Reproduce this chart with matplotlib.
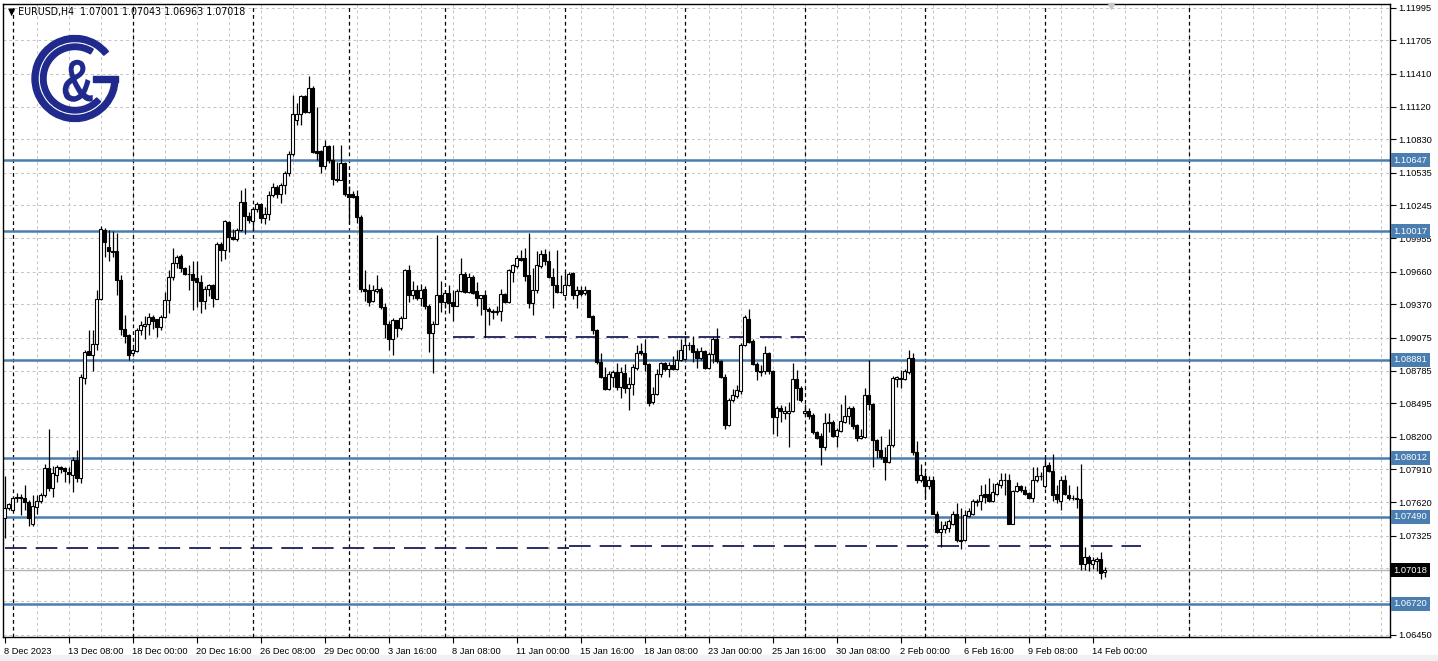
import numpy as np
import matplotlib.pyplot as plt
from matplotlib.patches import Wedge, Rectangle, PathPatch
from matplotlib.textpath import TextPath
from matplotlib.font_manager import FontProperties
from matplotlib.transforms import Affine2D

# EURUSD H4 candles, 8 Dec 2023 16:00 .. 14 Feb 2024 08:00
opens = [
    1.0748, 1.0757, 1.0755, 1.0766, 1.0767, 1.0766, 1.0762, 1.0743, 1.0758, 1.0763,
    1.0768, 1.0792, 1.0775, 1.0786, 1.0793, 1.0792, 1.0789, 1.0786, 1.0799, 1.0783,
    1.0872, 1.0896, 1.0892, 1.0902, 1.0942, 1.1003, 1.0988, 1.0984, 1.0984, 1.0959,
    1.0915, 1.0910, 1.0894, 1.0896, 1.0914, 1.0918, 1.0920, 1.0926, 1.0924, 1.0917,
    1.0926, 1.0941, 1.0961, 1.0974, 1.0980, 1.0969, 1.0964, 1.0964, 1.0960, 1.0957,
    1.0940, 1.0951, 1.0954, 1.0942, 1.0990, 1.0985, 1.1010, 1.0997, 1.0995, 1.1003,
    1.1028, 1.1015, 1.1011, 1.1021, 1.1026, 1.1013, 1.1017, 1.1034, 1.1041, 1.1035,
    1.1043, 1.1053, 1.1070, 1.1100, 1.1105, 1.1121, 1.1107, 1.1128, 1.1073, 1.1073,
    1.1059, 1.1077, 1.1065, 1.1048, 1.1047, 1.1062, 1.1035, 1.1035, 1.1033, 1.1014,
    1.0951, 1.0950, 1.0940, 1.0949, 1.0951, 1.0935, 1.0920, 1.0906, 1.0923, 1.0916,
    1.0925, 1.0967, 1.0945, 1.0950, 1.0943, 1.0951, 1.0936, 1.0912, 1.0920, 1.0945,
    1.0939, 1.0947, 1.0939, 1.0936, 1.0949, 1.0964, 1.0948, 1.0961, 1.0949, 1.0943,
    1.0945, 1.0933, 1.0931, 1.0930, 1.0931, 1.0946, 1.0939, 1.0966, 1.0971, 1.0978,
    1.0978, 1.0963, 1.0938, 1.0950, 1.0971, 1.0982, 1.0975, 1.0961, 1.0954, 1.0948,
    1.0945, 1.0954, 1.0965, 1.0945, 1.0950, 1.0947, 1.0950, 1.0927, 1.0914, 1.0886,
    1.0873, 1.0862, 1.0873, 1.0877, 1.0864, 1.0876, 1.0863, 1.0867, 1.0881, 1.0896,
    1.0894, 1.0884, 1.0851, 1.0858, 1.0875, 1.0885, 1.0880, 1.0883, 1.0880, 1.0888,
    1.0889, 1.0901, 1.0901, 1.0896, 1.0890, 1.0896, 1.0881, 1.0893, 1.0906, 1.0887,
    1.0873, 1.0830, 1.0852, 1.0856, 1.0860, 1.0901, 1.0924, 1.0905, 1.0884, 1.0878,
    1.0878, 1.0894, 1.0878, 1.0837, 1.0845, 1.0841, 1.0841, 1.0843, 1.0871, 1.0863,
    1.0841, 1.0843, 1.0839, 1.0824, 1.0821, 1.0811, 1.0832, 1.0833, 1.0821, 1.0825,
    1.0833, 1.0838, 1.0845, 1.0830, 1.0819, 1.0820, 1.0857, 1.0849, 1.0817, 1.0808,
    1.0802, 1.0798, 1.0813, 1.0871, 1.0871, 1.0871, 1.0877, 1.0890, 1.0806, 1.0782,
    1.0785, 1.0776, 1.0782, 1.0752, 1.0736, 1.0738, 1.0739, 1.0743, 1.0752, 1.0729,
    1.0729, 1.0750, 1.0752, 1.0763, 1.0763, 1.0769, 1.0769, 1.0763, 1.0769, 1.0777,
    1.0782, 1.0782, 1.0743, 1.0772, 1.0776, 1.0773, 1.0770, 1.0766, 1.0782, 1.0785,
    1.0776, 1.0795, 1.0790, 1.0769, 1.0763, 1.0782, 1.0768, 1.0766, 1.0766, 1.0765,
    1.0707, 1.0714, 1.0707, 1.0710, 1.0712, 1.07001,
]
highs = [
    1.0785, 1.0761, 1.0767, 1.0770, 1.0769, 1.0777, 1.0764, 1.0768, 1.0768, 1.0770,
    1.0796, 1.0827, 1.0794, 1.0795, 1.0794, 1.0793, 1.0793, 1.0802, 1.0808, 1.0875,
    1.0897, 1.0914, 1.0914, 1.0950, 1.1006, 1.1005, 1.1003, 1.1002, 1.1000, 1.0963,
    1.0928, 1.0911, 1.0898, 1.0916, 1.0922, 1.0927, 1.0929, 1.0928, 1.0924, 1.0928,
    1.0948, 1.0967, 1.0987, 1.0981, 1.0982, 1.0970, 1.0972, 1.0975, 1.0975, 1.0963,
    1.0953, 1.0955, 1.0955, 1.0992, 1.0992, 1.1012, 1.1011, 1.1004, 1.1005, 1.1038,
    1.1040, 1.1019, 1.1023, 1.1028, 1.1027, 1.1023, 1.1037, 1.1044, 1.1043, 1.1044,
    1.1055, 1.1073, 1.1122, 1.1115, 1.1122, 1.1122, 1.1139, 1.1130, 1.1112, 1.1074,
    1.1082, 1.1078, 1.1078, 1.1063, 1.1078, 1.1063, 1.1042, 1.1037, 1.1038, 1.1016,
    1.0967, 1.0955, 1.0954, 1.0963, 1.0952, 1.0938, 1.0922, 1.0925, 1.0923, 1.0927,
    1.0968, 1.0972, 1.0958, 1.0954, 1.0955, 1.0953, 1.0937, 1.0922, 1.0998, 1.0958,
    1.0950, 1.0954, 1.0950, 1.0951, 1.0978, 1.0966, 1.0965, 1.0963, 1.0957, 1.0945,
    1.0950, 1.0935, 1.0933, 1.0936, 1.0951, 1.0947, 1.0968, 1.0973, 1.0981, 1.0985,
    1.0987, 1.1000, 1.0969, 1.0984, 1.0985, 1.0986, 1.0984, 1.0969, 1.0985, 1.0963,
    1.0966, 1.0966, 1.0966, 1.0953, 1.0953, 1.0953, 1.0950, 1.0928, 1.0915, 1.0894,
    1.0882, 1.0878, 1.0879, 1.0885, 1.0882, 1.0884, 1.0873, 1.0884, 1.0901, 1.0903,
    1.0906, 1.0885, 1.0864, 1.0880, 1.0886, 1.0886, 1.0886, 1.0891, 1.0897, 1.0906,
    1.0908, 1.0904, 1.0909, 1.0898, 1.0899, 1.0897, 1.0895, 1.0908, 1.0916, 1.0888,
    1.0875, 1.0854, 1.0862, 1.0866, 1.0903, 1.0928, 1.0933, 1.0906, 1.0886, 1.0883,
    1.0900, 1.0895, 1.0879, 1.0847, 1.0848, 1.0847, 1.0851, 1.0885, 1.0879, 1.0865,
    1.0849, 1.0845, 1.0841, 1.0825, 1.0823, 1.0841, 1.0841, 1.0835, 1.0828, 1.0849,
    1.0857, 1.0847, 1.0847, 1.0831, 1.0827, 1.0863, 1.0888, 1.0850, 1.0818, 1.0821,
    1.0811, 1.0827, 1.0874, 1.0874, 1.0879, 1.0880, 1.0897, 1.0894, 1.0816, 1.0796,
    1.0789, 1.0785, 1.0785, 1.0754, 1.0745, 1.0745, 1.0747, 1.0754, 1.0761, 1.0757,
    1.0755, 1.0757, 1.0765, 1.0765, 1.0777, 1.0778, 1.0783, 1.0779, 1.0780, 1.0788,
    1.0788, 1.0787, 1.0773, 1.0780, 1.0777, 1.0776, 1.0771, 1.0793, 1.0793, 1.0789,
    1.0802, 1.0798, 1.0805, 1.0777, 1.0785, 1.0786, 1.0777, 1.0768, 1.0776, 1.0796,
    1.0722, 1.0715, 1.0714, 1.0714, 1.0718, 1.07043,
]
lows = [
    1.0730, 1.0755, 1.0754, 1.0762, 1.0751, 1.0755, 1.0741, 1.0741, 1.0752, 1.0761,
    1.0767, 1.0772, 1.0767, 1.0780, 1.0788, 1.0780, 1.0779, 1.0771, 1.0780, 1.0779,
    1.0867, 1.0892, 1.0878, 1.0897, 1.0941, 1.0979, 1.0975, 1.0979, 1.0945, 1.0910,
    1.0903, 1.0888, 1.0891, 1.0895, 1.0910, 1.0906, 1.0910, 1.0915, 1.0908, 1.0914,
    1.0925, 1.0929, 1.0959, 1.0969, 1.0966, 1.0963, 1.0950, 1.0932, 1.0935, 1.0929,
    1.0933, 1.0944, 1.0935, 1.0942, 1.0975, 1.0977, 1.0983, 1.0994, 1.0993, 1.1002,
    1.0999, 1.1009, 1.1002, 1.1019, 1.1009, 1.1008, 1.1012, 1.1032, 1.1031, 1.1027,
    1.1035, 1.1051, 1.1068, 1.1096, 1.1096, 1.1106, 1.1106, 1.1071, 1.1065, 1.1053,
    1.1057, 1.1062, 1.1043, 1.1045, 1.1047, 1.1033, 1.1009, 1.1031, 1.1009, 1.0948,
    1.0940, 1.0936, 1.0939, 1.0947, 1.0933, 1.0907, 1.0897, 1.0892, 1.0908, 1.0914,
    1.0925, 1.0939, 1.0942, 1.0941, 1.0936, 1.0933, 1.0895, 1.0876, 1.0920, 1.0930,
    1.0934, 1.0929, 1.0922, 1.0936, 1.0948, 1.0947, 1.0947, 1.0946, 1.0936, 1.0928,
    1.0908, 1.0919, 1.0924, 1.0928, 1.0922, 1.0938, 1.0938, 1.0957, 1.0969, 1.0975,
    1.0958, 1.0934, 1.0928, 1.0947, 1.0969, 1.0972, 1.0960, 1.0934, 1.0947, 1.0947,
    1.0944, 1.0953, 1.0942, 1.0934, 1.0944, 1.0945, 1.0926, 1.0911, 1.0884, 1.0872,
    1.0861, 1.0861, 1.0864, 1.0861, 1.0854, 1.0859, 1.0844, 1.0857, 1.0879, 1.0892,
    1.0878, 1.0847, 1.0849, 1.0857, 1.0873, 1.0878, 1.0873, 1.0879, 1.0879, 1.0887,
    1.0888, 1.0897, 1.0886, 1.0881, 1.0888, 1.0880, 1.0880, 1.0885, 1.0885, 1.0872,
    1.0827, 1.0829, 1.0851, 1.0854, 1.0858, 1.0900, 1.0903, 1.0883, 1.0870, 1.0874,
    1.0875, 1.0875, 1.0822, 1.0821, 1.0833, 1.0836, 1.0811, 1.0842, 1.0852, 1.0851,
    1.0839, 1.0836, 1.0822, 1.0818, 1.0795, 1.0808, 1.0824, 1.0820, 1.0811, 1.0824,
    1.0832, 1.0831, 1.0827, 1.0816, 1.0818, 1.0819, 1.0844, 1.0793, 1.0801, 1.0800,
    1.0782, 1.0797, 1.0811, 1.0864, 1.0863, 1.0870, 1.0875, 1.0804, 1.0779, 1.0780,
    1.0766, 1.0774, 1.0752, 1.0735, 1.0722, 1.0735, 1.0736, 1.0742, 1.0727, 1.0721,
    1.0728, 1.0749, 1.0751, 1.0759, 1.0755, 1.0761, 1.0762, 1.0762, 1.0768, 1.0775,
    1.0768, 1.0743, 1.0743, 1.0771, 1.0771, 1.0768, 1.0765, 1.0762, 1.0780, 1.0782,
    1.0775, 1.0789, 1.0763, 1.0761, 1.0755, 1.0768, 1.0764, 1.0764, 1.0757, 1.0702,
    1.0702, 1.0701, 1.0703, 1.0701, 1.0694, 1.06963,
]
closes = [
    1.0757, 1.0760, 1.0766, 1.0767, 1.0766, 1.0762, 1.0748, 1.0759, 1.0763, 1.0768,
    1.0792, 1.0775, 1.0788, 1.0793, 1.0791, 1.0790, 1.0787, 1.0799, 1.0783, 1.0873,
    1.0895, 1.0892, 1.0902, 1.0942, 1.1004, 1.0992, 1.0984, 1.0983, 1.0959, 1.0915,
    1.0909, 1.0892, 1.0897, 1.0914, 1.0919, 1.0920, 1.0926, 1.0922, 1.0917, 1.0926,
    1.0941, 1.0961, 1.0974, 1.0979, 1.0969, 1.0964, 1.0964, 1.0959, 1.0957, 1.0940,
    1.0951, 1.0954, 1.0943, 1.0990, 1.0985, 1.1011, 1.0997, 1.0995, 1.1003, 1.1028,
    1.1015, 1.1012, 1.1021, 1.1026, 1.1013, 1.1017, 1.1034, 1.1041, 1.1035, 1.1043,
    1.1053, 1.1070, 1.1105, 1.1105, 1.1121, 1.1107, 1.1128, 1.1072, 1.1071, 1.1059,
    1.1077, 1.1065, 1.1048, 1.1047, 1.1062, 1.1035, 1.1032, 1.1032, 1.1014, 1.0951,
    1.0949, 1.0939, 1.0950, 1.0951, 1.0935, 1.0920, 1.0906, 1.0923, 1.0916, 1.0925,
    1.0967, 1.0945, 1.0950, 1.0943, 1.0950, 1.0936, 1.0912, 1.0920, 1.0945, 1.0939,
    1.0947, 1.0938, 1.0936, 1.0949, 1.0964, 1.0948, 1.0961, 1.0947, 1.0943, 1.0945,
    1.0933, 1.0931, 1.0930, 1.0931, 1.0946, 1.0939, 1.0967, 1.0972, 1.0978, 1.0976,
    1.0962, 1.0938, 1.0950, 1.0972, 1.0982, 1.0975, 1.0961, 1.0954, 1.0948, 1.0948,
    1.0954, 1.0964, 1.0945, 1.0950, 1.0946, 1.0950, 1.0926, 1.0914, 1.0886, 1.0873,
    1.0862, 1.0875, 1.0877, 1.0864, 1.0877, 1.0863, 1.0867, 1.0882, 1.0894, 1.0894,
    1.0884, 1.0850, 1.0858, 1.0875, 1.0885, 1.0880, 1.0883, 1.0880, 1.0888, 1.0897,
    1.0901, 1.0901, 1.0895, 1.0890, 1.0896, 1.0881, 1.0893, 1.0906, 1.0887, 1.0873,
    1.0830, 1.0852, 1.0857, 1.0861, 1.0901, 1.0926, 1.0904, 1.0884, 1.0878, 1.0877,
    1.0894, 1.0878, 1.0837, 1.0845, 1.0843, 1.0843, 1.0843, 1.0871, 1.0863, 1.0852,
    1.0843, 1.0838, 1.0824, 1.0819, 1.0811, 1.0832, 1.0833, 1.0821, 1.0826, 1.0834,
    1.0838, 1.0845, 1.0829, 1.0819, 1.0821, 1.0857, 1.0849, 1.0817, 1.0808, 1.0802,
    1.0798, 1.0813, 1.0872, 1.0873, 1.0872, 1.0878, 1.0890, 1.0806, 1.0782, 1.0786,
    1.0776, 1.0782, 1.0752, 1.0736, 1.0738, 1.0742, 1.0745, 1.0752, 1.0729, 1.0728,
    1.0751, 1.0754, 1.0763, 1.0762, 1.0768, 1.0767, 1.0763, 1.0771, 1.0778, 1.0782,
    1.0782, 1.0743, 1.0772, 1.0776, 1.0773, 1.0769, 1.0766, 1.0782, 1.0785, 1.0785,
    1.0794, 1.0790, 1.0768, 1.0765, 1.0782, 1.0769, 1.0766, 1.0766, 1.0765, 1.0707,
    1.0714, 1.0708, 1.0711, 1.0712, 1.0699, 1.07018,
]

time_labels = ["8 Dec 2023", "13 Dec 08:00", "18 Dec 00:00", "20 Dec 16:00",
               "26 Dec 08:00", "29 Dec 00:00", "3 Jan 16:00", "8 Jan 08:00",
               "11 Jan 00:00", "15 Jan 16:00", "18 Jan 08:00", "23 Jan 00:00",
               "25 Jan 16:00", "30 Jan 08:00", "2 Feb 00:00", "6 Feb 16:00",
               "9 Feb 08:00", "14 Feb 00:00"]
label_bars = [0, 16, 32, 48, 64, 80, 96, 112, 128, 144, 160, 176, 192, 208,
              224, 240, 256, 272]
price_ticks = [1.11995, 1.11705, 1.11410, 1.11120, 1.10830, 1.10535, 1.10245,
               1.09955, 1.09660, 1.09370, 1.09075, 1.08785, 1.08495, 1.08200,
               1.07910, 1.07620, 1.07325, 1.07035, 1.06745, 1.06450]
hidden_ticks = [1.07035, 1.06745]   # covered by the price boxes
levels = [1.10647, 1.10017, 1.08881, 1.08012, 1.07490, 1.06720]
last_price = 1.07018
week_separators = [2, 32, 62, 86, 110, 140, 170, 200, 230, 260, 296]
# dashed trend lines: (start bar, end bar, price)
dashed_lines = [(0, 141, 1.07218), (141, 284, 1.07230), (112, 200, 1.09081)]

W, H = 1438, 661
fig = plt.figure(figsize=(W / 100, H / 100), dpi=100)
fig.patch.set_facecolor("white")
axis_font = "Liberation Sans"

# plot area in pixels: x 3..1390, y 4..637
ax = fig.add_axes([3 / W, 1 - 637 / H, 1387 / W, 633 / H])
ax.set_xlim(-0.375, 346.375)
ax.set_ylim(1.06428, 1.12027)

grid_col = "#c4c4c4"
for p in price_ticks:
    ax.axhline(p, color=grid_col, lw=0.7, ls=(0, (3, 3)), zorder=0)
for b in range(8, 347, 8):
    ax.axvline(b, color=grid_col, lw=0.7, ls=(0, (3, 3)), zorder=0)
for b in week_separators:
    ax.axvline(b, color="black", lw=0.9, ls=(0, (3, 2.5)), zorder=1)

for lv in levels:
    ax.axhline(lv, color="#4a7db0", lw=1.8, zorder=2)
ax.axhline(last_price, color="#b4b4b4", lw=1.0, zorder=1)

for b0, b1, p in dashed_lines:
    ax.plot([b0, b1], [p, p], color="#1c1c5c", lw=1.3, ls=(0, (12, 5)), zorder=2)

# candles
o = np.array(opens)
h = np.array(highs)
l = np.array(lows)
c = np.array(closes)
x = np.arange(len(o))
ax.vlines(x, l, h, color="black", lw=0.9, zorder=3)
bull = c > o
ax.bar(x[bull], (c - o)[bull], bottom=o[bull], width=0.55, color="white",
       edgecolor="black", linewidth=0.8, zorder=4)
ax.bar(x[~bull], (c - o)[~bull], bottom=o[~bull], width=0.55, color="black",
       edgecolor="black", linewidth=0.8, zorder=4)

# axes styling
for s in ax.spines.values():
    s.set_color("black")
    s.set_linewidth(1.0)
ax.yaxis.tick_right()
ax.set_yticks(price_ticks)
ax.set_yticklabels(["" if p in hidden_ticks else "%.5f" % p for p in price_ticks],
                   family=axis_font, fontsize=6.7)
ax.set_xticks(label_bars)
ax.set_xticklabels(time_labels, family=axis_font, fontsize=6.7)
for t in ax.get_xticklabels():
    t.set_ha("left")
ax.tick_params(axis="y", length=4, pad=2, width=0.8)
ax.tick_params(axis="x", length=4, pad=3, width=0.8)

# price labels on the scale
yt = ax.get_yaxis_transform()
for lv in levels:
    ax.text(1.0025, lv, "%.5f" % lv, transform=yt, ha="left", va="center",
            fontsize=6.7, family=axis_font, color="white", clip_on=False,
            zorder=10, bbox=dict(boxstyle="square,pad=0.25", fc="#4a7db0", ec="none"))
ax.text(1.0025, last_price, "%.5f" % last_price, transform=yt, ha="left",
        va="center", fontsize=6.7, family=axis_font, color="white",
        clip_on=False, zorder=10,
        bbox=dict(boxstyle="square,pad=0.25", fc="black", ec="none"))

# chart shift marker
ax.plot([276.5], [1.1201], marker="v", color="#c8c8c8", ms=5, clip_on=False,
        zorder=5)

# header
fig.text(8 / W, 1 - 12 / H, "\u25bc EURUSD,H4  1.07001 1.07043 1.06963 1.07018",
         fontsize=6.85, va="center", ha="left")

# bottom strip
fig.patches.append(Rectangle((0, 0), 1, 6 / H, transform=fig.transFigure,
                             color="#f0f0f0", zorder=0))

# logo, drawn in pixel units around its centre
navy = "#1f2a8c"
lax = fig.add_axes([27 / W, 1 - 126.5 / H, 96 / W, 96 / H])
lax.set_xlim(-48, 48)
lax.set_ylim(-48, 48)
lax.axis("off")
lax.patch.set_alpha(0)
lax.add_patch(Wedge((0, 0), 43, 39, 360, width=6, color=navy))
lax.add_patch(Rectangle((18, -3), 25, 6, color=navy))
lax.add_patch(Wedge((0, 0), 34.5, 58, 318, width=5.5, color=navy))
amp = TextPath((0, 0), "&", size=1, prop=FontProperties(family="Liberation Sans",
                                                          weight="bold"))
ext = amp.get_extents()
sx = 30 / ext.width
sy = 42 / ext.height
tr = (Affine2D().translate(-(ext.x0 + ext.width / 2), -(ext.y0 + ext.height / 2))
      .scale(sx, sy).translate(2.7, -2.3))
lax.add_patch(PathPatch(tr.transform_path(amp), color=navy, lw=0))

fig.savefig("out.png", dpi=100)
